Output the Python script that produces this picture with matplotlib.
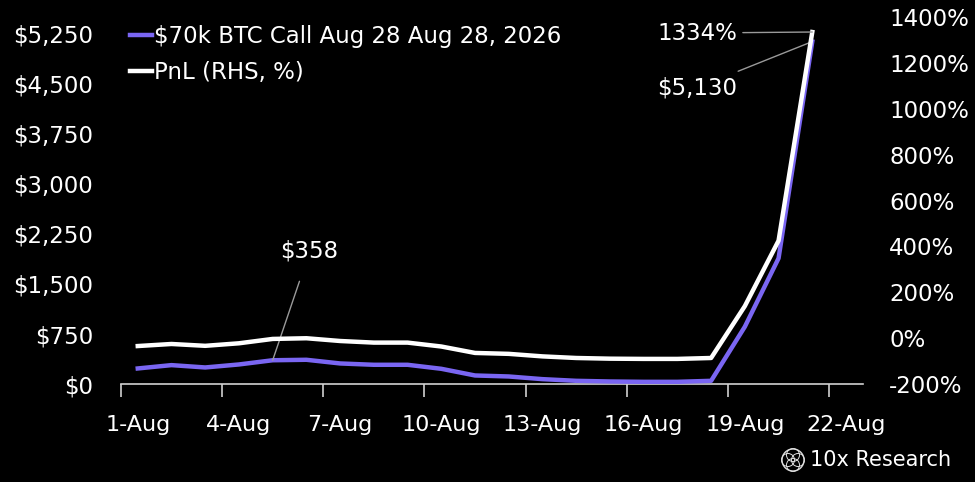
import numpy as np
import matplotlib.pyplot as plt
from matplotlib.patches import Circle

# data
days = [f'{d}-Aug' for d in range(1, 22)]
price = [235, 285, 250, 295, 358, 365, 310, 290, 290, 230, 130,
         115, 75, 50, 40, 35, 35, 50, 860, 1885, 5130]
pnl = [-34, -25, -33, -22, -3, 0, -12, -19, -19, -36, -64,
       -68, -79, -86, -89, -90, -90, -86, 140, 425, 1334]
tick_days = [1, 4, 7, 10, 13, 16, 19, 22]
left_ticks = [0, 750, 1500, 2250, 3000, 3750, 4500, 5250]
right_ticks = [-200, 0, 200, 400, 600, 800, 1000, 1200, 1400]

purple = '#7a66f2'
fg = 'white'
fs = 16.5
plt.rcParams['font.family'] = ['DejaVu Sans']

fig = plt.figure(figsize=(9.75, 4.82), dpi=100, facecolor='black')
ax = fig.add_axes([0.124, 0.203, 0.761, 0.762])
ax.set_facecolor('black')
ax2 = ax.twinx()

x = np.arange(len(days))
l1, = ax.plot(x, price, color=purple, lw=3.2, solid_joinstyle='round',
              label='$70k BTC Call Aug 28 Aug 28, 2026', zorder=3)
l2, = ax2.plot(x, pnl, color=fg, lw=3.2, solid_joinstyle='round',
               label='PnL (RHS, %)', zorder=3)

ax.set_xlim(-0.5, 21.5)
ax.set_ylim(0, 5500)
ax2.set_ylim(-200, 1400)

# category style x axis: tick marks between categories, labels on them
ax.set_xticks([d - 1.5 for d in tick_days])
ax.set_xticklabels([])
ax.set_xticks([d - 1 for d in tick_days], minor=True)
ax.set_xticklabels([f'{d}-Aug' for d in tick_days], minor=True)
ax.tick_params(axis='x', which='major', length=9, width=1.2, color='#d0d0d0', direction='out')
ax.tick_params(axis='x', which='minor', length=0, pad=22, labelsize=16, labelcolor=fg)

ax.set_yticks(left_ticks)
ax.set_yticklabels([f'${v:,}' for v in left_ticks])
ax.tick_params(axis='y', length=0, pad=20, labelsize=fs, labelcolor=fg)
ax2.set_yticks(right_ticks)
ax2.set_yticklabels([f'{v}%' for v in right_ticks])
ax2.tick_params(axis='y', length=0, pad=19, labelsize=fs, labelcolor=fg)

for a in (ax, ax2):
    for s in ('top', 'left', 'right'):
        a.spines[s].set_visible(False)
ax.spines['bottom'].set_color('#d0d0d0')
ax.spines['bottom'].set_linewidth(1.2)
ax2.spines['bottom'].set_visible(False)

leg = ax.legend(handles=[l1, l2], loc='upper left', bbox_to_anchor=(-0.015, 1.035),
                frameon=False, fontsize=fs, handlelength=0.95, handletextpad=0.1,
                labelspacing=0.6, labelcolor=fg)

# annotations
ac = '#9a9a9a'
ax2.annotate('1334%', xy=(20, 1334), xytext=(-75, -1), textcoords='offset pixels',
             color=fg, fontsize=fs, ha='right', va='center',
             arrowprops=dict(arrowstyle='-', color=ac, lw=1, shrinkA=2, shrinkB=0))
ax.annotate('$5,130', xy=(20, 5130), xytext=(-75, -46), textcoords='offset pixels',
            color=fg, fontsize=fs, ha='right', va='center',
            arrowprops=dict(arrowstyle='-', color=ac, lw=1, shrinkA=4, shrinkB=0))
ax.annotate('$358', xy=(4, 358), xytext=(37, 109), textcoords='offset pixels',
            color=fg, fontsize=fs, ha='center', va='center',
            arrowprops=dict(arrowstyle='-', color=ac, lw=1, shrinkA=12, shrinkB=0))

# logo
fax = fig.add_axes([0, 0, 1, 1], facecolor='none')
fax.set_xlim(0, 975)
fax.set_ylim(482, 0)
fax.axis('off')
fax.add_patch(Circle((793, 460), 11, fill=False, ec='#dddddd', lw=1))
for dx, dy in [(-5, 0), (5, 0), (0, -5), (0, 5)]:
    fax.add_patch(Circle((793 + dx, 460 + dy), 6.5, fill=False, ec='#dddddd', lw=0.7))
fax.text(810, 460, '10x Research', color=fg, fontsize=15, va='center', ha='left')

fig.savefig('out.png', dpi=100, facecolor='black')
